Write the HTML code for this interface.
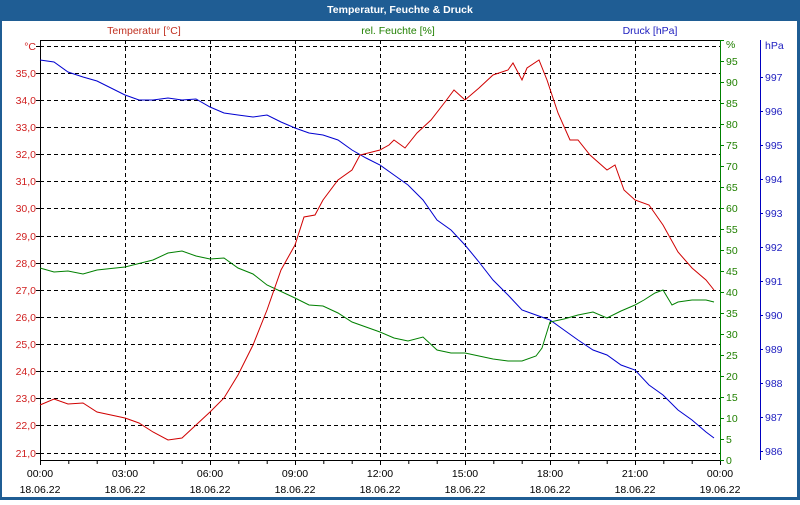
<!DOCTYPE html>
<html><head><meta charset="utf-8"><style>
body{margin:0;width:800px;height:500px;overflow:hidden;background:#fff;font-family:"Liberation Sans",sans-serif}
</style></head><body>
<svg width="800" height="500" xmlns="http://www.w3.org/2000/svg" font-family="Liberation Sans, sans-serif" font-size="10.5">
<rect x="0" y="0" width="800" height="500" fill="#1f5d94"/>
<rect x="2" y="21" width="795" height="476" fill="#fff"/>
<text x="400" y="13" fill="#fff" font-weight="bold" font-size="10.5" text-anchor="middle">Temperatur, Feuchte &amp; Druck</text>
<text x="144" y="34" fill="#c03020" text-anchor="middle">Temperatur [°C]</text>
<text x="398" y="34" fill="#208000" text-anchor="middle">rel. Feuchte [%]</text>
<text x="650" y="34" fill="#2020c0" text-anchor="middle">Druck [hPa]</text>
<g id="grid" stroke="#000" stroke-dasharray="4,3" stroke-width="1">
<script>/* no */</script>
</g>
<g stroke="#000" stroke-dasharray="4,3" stroke-width="1" fill="none">
<path d="M40 46.5H720M40 73.5H720M40 100.5H720M40 127.5H720M40 154.5H720M40 181.5H720M40 208.5H720M40 236.5H720M40 263.5H720M40 290.5H720M40 317.5H720M40 344.5H720M40 371.5H720M40 398.5H720M40 425.5H720M40 453.5H720"/>
<path d="M125.5 40V460M210.5 40V460M295.5 40V460M380.5 40V460M465.5 40V460M550.5 40V460M635.5 40V460"/>
</g>
<g stroke="#000" stroke-width="1" fill="none">
<path d="M40.5 40V460.5H720M40 40.5H720"/>
<path d="M40.5 460v5M68.8 460v4M97.2 460v4M125.5 460v5M153.8 460v4M182.2 460v4M210.5 460v5M238.8 460v4M267.2 460v4M295.5 460v5M323.8 460v4M352.2 460v4M380.5 460v5M408.8 460v4M437.2 460v4M465.5 460v5M493.8 460v4M522.2 460v4M550.5 460v5M578.8 460v4M607.2 460v4M635.5 460v5M663.8 460v4M692.2 460v4M720.5 460v5"/>
<path d="M36 46.5h4M36 73.5h4M36 100.5h4M36 127.5h4M36 154.5h4M36 181.5h4M36 208.5h4M36 236.5h4M36 263.5h4M36 290.5h4M36 317.5h4M36 344.5h4M36 371.5h4M36 398.5h4M36 425.5h4M36 453.5h4"/>
</g>
<g fill="#d02020" text-anchor="end">
<text x="36" y="50">°C</text><text x="36" y="77">35,0</text><text x="36" y="104">34,0</text><text x="36" y="131">33,0</text><text x="36" y="158">32,0</text><text x="36" y="185">31,0</text><text x="36" y="212">30,0</text><text x="36" y="240">29,0</text><text x="36" y="267">28,0</text><text x="36" y="294">27,0</text><text x="36" y="321">26,0</text><text x="36" y="348">25,0</text><text x="36" y="375">24,0</text><text x="36" y="402">23,0</text><text x="36" y="429">22,0</text><text x="36" y="457">21,0</text>
</g>
<g fill="#000" text-anchor="middle">
<text x="40" y="477">00:00</text><text x="40" y="493">18.06.22</text>
<text x="125" y="477">03:00</text><text x="125" y="493">18.06.22</text>
<text x="210" y="477">06:00</text><text x="210" y="493">18.06.22</text>
<text x="295" y="477">09:00</text><text x="295" y="493">18.06.22</text>
<text x="380" y="477">12:00</text><text x="380" y="493">18.06.22</text>
<text x="465" y="477">15:00</text><text x="465" y="493">18.06.22</text>
<text x="550" y="477">18:00</text><text x="550" y="493">18.06.22</text>
<text x="635" y="477">21:00</text><text x="635" y="493">18.06.22</text>
<text x="720" y="477">00:00</text><text x="720" y="493">19.06.22</text>
</g>
<g stroke="#008000" fill="none">
<path d="M720.5 40V460"/>
<path d="M720 460.5h4M720 439.5h4M720 418.5h4M720 397.5h4M720 376.5h4M720 355.5h4M720 334.5h4M720 313.5h4M720 292.5h4M720 271.5h4M720 250.5h4M720 229.5h4M720 208.5h4M720 187.5h4M720 166.5h4M720 145.5h4M720 124.5h4M720 103.5h4M720 82.5h4M720 61.5h4M720 40.5h4"/>
</g>
<g fill="#208000">
<text x="726" y="464">0</text><text x="726" y="443">5</text><text x="726" y="422">10</text><text x="726" y="401">15</text><text x="726" y="380">20</text><text x="726" y="359">25</text><text x="726" y="338">30</text><text x="726" y="317">35</text><text x="726" y="296">40</text><text x="726" y="275">45</text><text x="726" y="254">50</text><text x="726" y="233">55</text><text x="726" y="212">60</text><text x="726" y="191">65</text><text x="726" y="170">70</text><text x="726" y="149">75</text><text x="726" y="128">80</text><text x="726" y="107">85</text><text x="726" y="86">90</text><text x="726" y="65">95</text><text x="726" y="48">%</text>
</g>
<g stroke="#0000c0" fill="none">
<path d="M760.5 40V460"/>
<path d="M760 77.5h3M760 111.5h3M760 145.5h3M760 179.5h3M760 213.5h3M760 247.5h3M760 281.5h3M760 315.5h3M760 349.5h3M760 383.5h3M760 417.5h3M760 451.5h3"/>
</g>
<g fill="#2020c0">
<text x="765" y="49">hPa</text><text x="765" y="81">997</text><text x="765" y="115">996</text><text x="765" y="149">995</text><text x="765" y="183">994</text><text x="765" y="217">993</text><text x="765" y="251">992</text><text x="765" y="285">991</text><text x="765" y="319">990</text><text x="765" y="353">989</text><text x="765" y="387">988</text><text x="765" y="421">987</text><text x="765" y="455">986</text>
</g>
<polyline fill="none" stroke="#0000d0" stroke-width="1" points="40,60 54,62 68,72 83,77 97,81 125,95 139,100 153,100 168,98 182,100 196,99 210,107 224,113 238,115 253,117 267,115 281,122 295,128 309,133 323,135 338,140 352,150 366,158 380,165 394,175 408,185 423,200 437,220 451,230 465,245 479,262 493,280 508,295 522,310 536,315 550,320 564,330 578,340 593,350 607,355 621,365 635,370 649,385 663,395 678,410 692,420 706,432 714,438"/>
<polyline fill="none" stroke="#008000" stroke-width="1" points="40,268 54,272 68,271 83,274 97,270 125,267 153,260 168,253 182,251 196,256 210,259 224,258 238,268 253,274 267,285 295,298 309,305 323,306 338,313 352,322 380,332 394,338 408,341 423,337 437,350 451,353 465,353 479,356 493,359 508,361 522,361 536,356 542,348 550,322 564,319 578,315 593,312 607,318 621,311 635,305 644,300 655,293 663,290 672,305 678,302 692,300 706,300 714,302"/>
<polyline fill="none" stroke="#d00000" stroke-width="1" points="40,405 54,399 68,404 83,403 97,412 125,418 139,423 153,432 168,440 182,438 196,425 210,412 224,398 238,375 253,345 267,310 281,270 295,245 304,217 315,215 323,200 338,180 352,170 360,155 380,150 389,145 394,140 405,148 417,133 431,120 445,102 454,90 465,100 479,88 493,75 508,70 513,63 522,80 527,68 539,60 547,80 558,113 570,140 578,140 590,155 607,170 615,165 624,190 635,200 649,205 663,225 678,252 692,268 706,280 714,290"/>
</svg>
</body></html>
